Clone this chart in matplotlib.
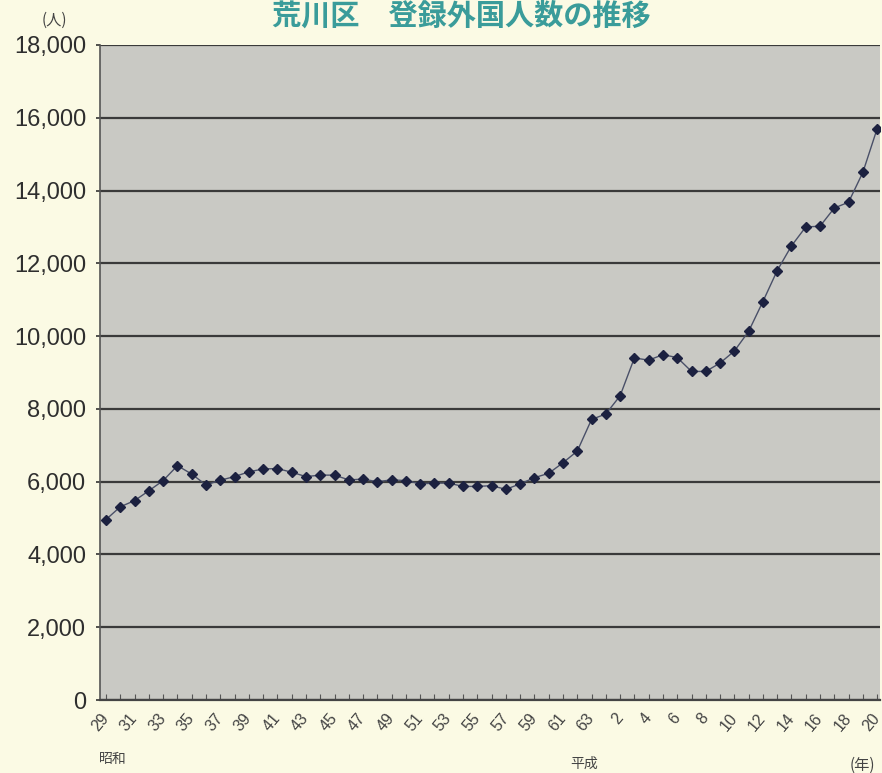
import numpy as np
import matplotlib.pyplot as plt

# 昭和29年(1954) - 平成20年(2008)
nendo = list(range(1954, 2009))
ninzu = [4960, 5310, 5480, 5750, 6030, 6440, 6210, 5910, 6040, 6140,
         6270, 6350, 6360, 6260, 6140, 6180, 6180, 6050, 6070, 6000,
         6050, 6030, 5940, 5960, 5960, 5870, 5870, 5890, 5790, 5940,
         6110, 6230, 6520, 6840, 7710, 7860, 8360, 9400, 9340, 9490,
         9410, 9030, 9030, 9260, 9590, 10130, 10950, 11800, 12480, 13000,
         13020, 13520, 13680, 14500, 15700]

def wareki(y):
    if y <= 1988:
        return str(y - 1925)
    return str(y - 1988)

etiq = [wareki(y) if i % 2 == 0 else '' for i, y in enumerate(nendo)]
yticks = list(range(0, 18001, 2000))

jp = ['Noto Sans CJK JP', 'DejaVu Sans']
num = ['Liberation Sans', 'DejaVu Sans']

fondo = '#fbfae4'
gris = '#c9c9c4'

fig = plt.figure(figsize=(8.82, 7.73), dpi=100, facecolor=fondo)
ax = fig.add_axes([0.1134, 0.0944, 0.8845, 0.8474])
ax.set_facecolor(gris)

x = np.arange(len(nendo))
ax.plot(x, ninzu, '-', color='#4a5068', lw=1.0, zorder=3)
ax.plot(x, ninzu, 'D', color='#1c2140', ms=5.5, zorder=4)

ax.set_xlim(-0.42, len(nendo) - 1 + 0.21)
ax.set_ylim(0, 18000)
ax.set_yticks(yticks)
ax.set_yticklabels([f'{v:,}' if v else '0' for v in yticks], family=num, fontsize=17, color='#2e2e2e')
ax.set_xticks(x)
ax.set_xticklabels(etiq, rotation=50, family=num, fontsize=11.5, color='#444444',
                   rotation_mode='anchor', ha='right', va='center')
ax.tick_params(axis='x', direction='in', length=4, width=0.8, color='#555555', pad=11)
ax.tick_params(axis='y', length=3, width=1.2, color='#333333', pad=7)

ax.grid(axis='y', color='#3a3a3a', lw=1.6)
ax.set_axisbelow(True)
for s in ['top', 'right']:
    ax.spines[s].set_visible(False)
ax.spines['left'].set_color('#555555')
ax.spines['bottom'].set_color('#444444')
ax.spines['left'].set_linewidth(1.2)
ax.spines['bottom'].set_linewidth(1.6)

fig.text(0.523, 0.980, '荒川区　登録外国人数の推移', family=jp, fontsize=21,
         fontweight='bold', color='#3a9c9a', ha='center', va='center')
fig.text(0.062, 0.974, '(人)', family=jp, fontsize=11, color='#444444', ha='center', va='center')
fig.text(0.128, 0.018, '昭和', family=jp, fontsize=10, color='#444444', ha='center', va='center')
fig.text(0.662, 0.012, '平成', family=jp, fontsize=10, color='#444444', ha='center', va='center')
fig.text(0.978, 0.010, '(年)', family=jp, fontsize=11, color='#444444', ha='center', va='center')

fig.savefig('out.png', dpi=100, facecolor=fondo)
